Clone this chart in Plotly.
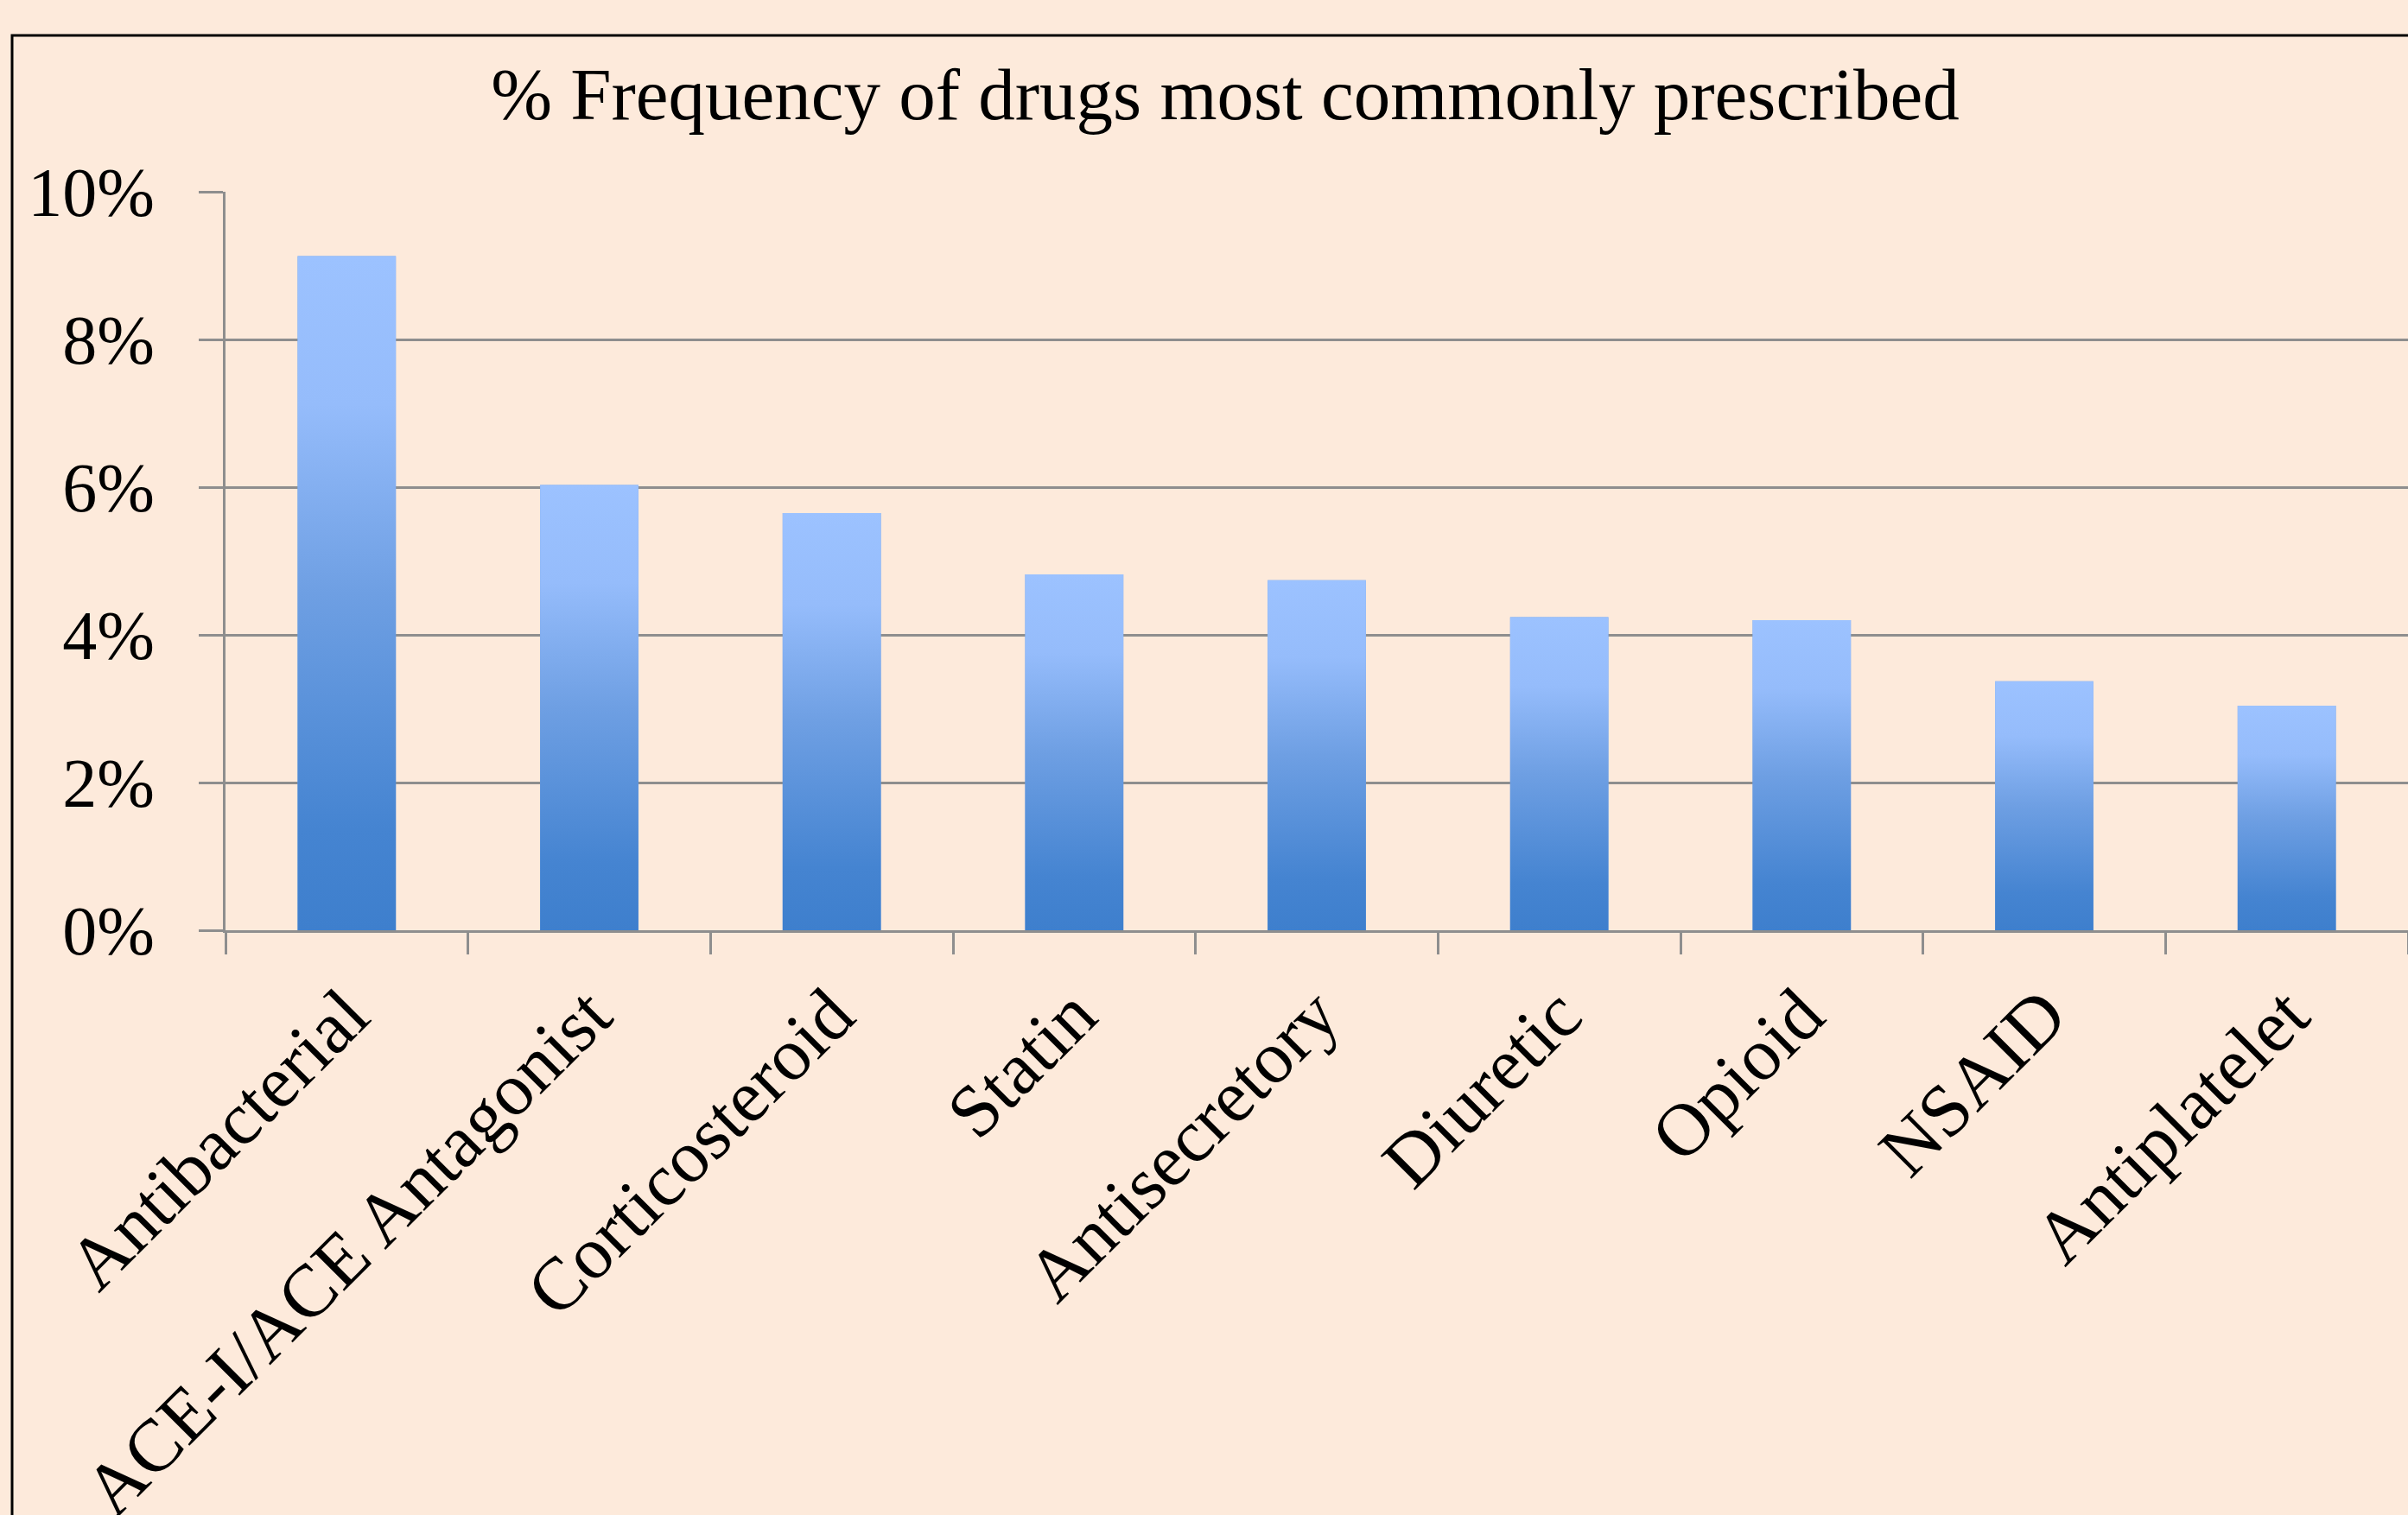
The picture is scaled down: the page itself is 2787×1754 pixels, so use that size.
import plotly.graph_objects as go

categories = ["Antibacterial", "ACE-I/ACE Antagonist", "Corticosteroid", "Statin",
              "Antisecretory", "Diuretic", "Opioid", "NSAID", "Antiplatelet"]
frequency = [0.0913, 0.0603, 0.0565, 0.0482, 0.0474, 0.0424, 0.0420, 0.0337, 0.0304]
title_text = "% Frequency of drugs most commonly prescribed"

W, H = 2787, 1754
ML, MR, MT, MB = 261, 0, 222, 677
BG = "#FDEADB"
FONT = "Liberation Serif"
BAR_W = 0.405
grad = [[0, "#3E7FCD"], [0.15, "#4584D1"], [0.5, "#6E9FE3"], [0.78, "#95BCFB"], [1, "#9CC2FF"]]

fig = go.Figure()
fig.add_trace(go.Bar(x=categories, y=frequency, width=BAR_W,
                     marker=dict(color="#6E9FE3", line=dict(width=0)),
                     hoverinfo="x+y", showlegend=False))

# gradient overlay for each bar, computed from the data on a matching numeric axis
for i, v in enumerate(frequency):
    x0, x1 = i - BAR_W / 2, i + BAR_W / 2
    fig.add_trace(go.Scatter(x=[x0, x0, x1, x1, x0], y=[0, v, v, 0, 0],
                             xaxis="x2", yaxis="y", mode="lines",
                             line=dict(width=0), fill="toself",
                             fillgradient=dict(type="vertical", colorscale=grad, start=0, stop=v),
                             hoverinfo="skip", showlegend=False))

pw = W - ML - MR
ph = H - MT - MB
fig.add_shape(type="rect", xref="paper", yref="paper",
              x0=(14 - ML) / pw, x1=1.2, y0=-1.5, y1=(H - MB - 41) / ph,
              line=dict(color="black", width=3), fillcolor="rgba(0,0,0,0)", layer="below")

fig.update_layout(
    width=W, height=H,
    margin=dict(l=ML, r=MR, t=MT, b=MB, autoexpand=False),
    paper_bgcolor=BG, plot_bgcolor=BG,
    font=dict(family=FONT, color="black", size=82),
    title=dict(text=title_text, font=dict(size=85, family=FONT, color="black"),
               x=1418 / W, xanchor="center", xref="container",
               y=1 - 108 / H, yanchor="middle", yref="container"),
    bargap=0.6,
    xaxis=dict(type="category", range=[-0.5, 8.5], tickson="boundaries",
               ticks="outside", ticklen=25, tickwidth=3, tickcolor="#8E8E8E",
               showline=True, linecolor="#8E8E8E", linewidth=3,
               showgrid=False, tickangle=-45, ticklabelstandoff=10,
               tickfont=dict(size=86, family=FONT)),
    xaxis2=dict(overlaying="x", range=[-0.5, 8.5], visible=False),
    yaxis=dict(range=[0, 0.10], dtick=0.02, tickformat=".0%",
               showgrid=True, gridcolor="#8E8E8E", gridwidth=3,
               ticks="outside", ticklen=28, tickwidth=3, tickcolor="#8E8E8E",
               showline=True, linecolor="#8E8E8E", linewidth=3,
               zeroline=False, ticklabelstandoff=35,
               tickfont=dict(size=80, family=FONT)),
)

fig.write_html("out.html",
               config={"displayModeBar": False},
               post_script="document.body.style.margin='0';"
                           "document.body.style.overflow='hidden';"
                           "document.body.style.background='" + BG + "';")
